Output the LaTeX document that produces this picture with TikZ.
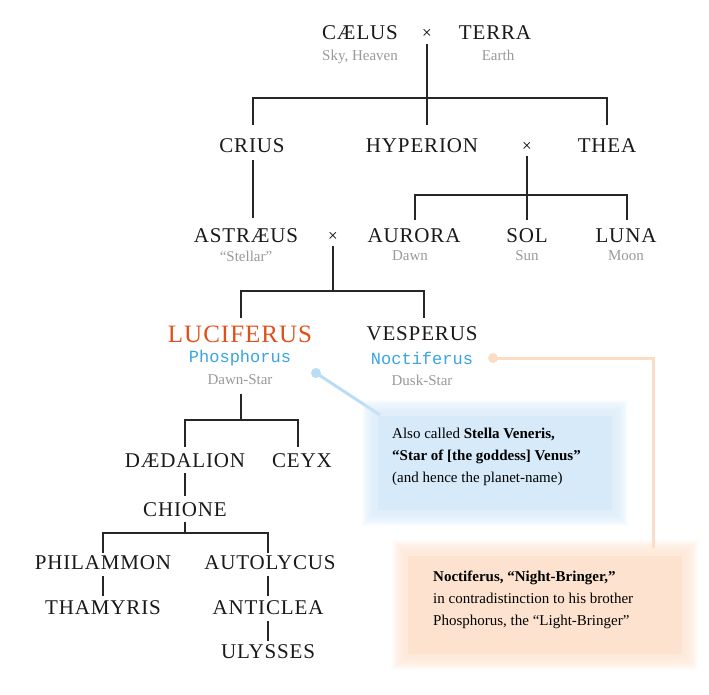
\documentclass[tikz,border=0pt]{standalone}
\usepackage{fontspec}
\setmainfont{Liberation Serif}
\newfontfamily\namefont[LetterSpace=4]{Liberation Serif}
\newfontfamily\blfont{Liberation Mono}
\begin{document}
\begin{tikzpicture}[x=1pt,y=-1pt,
  nm/.style={font=\namefont\fontsize{21}{22}\selectfont,inner sep=0pt,text=black!90},
  gl/.style={font=\fontsize{15}{16}\selectfont,inner sep=0pt,text=black!40},
  bl/.style={font=\blfont\fontsize{17}{18}\selectfont,inner sep=0pt,text=cyan!80!blue!80},
  tx/.style={font=\fontsize{15}{22}\selectfont,inner sep=0pt,align=left,anchor=north west},
  ln/.style={line width=2.6pt,black!85},
  mul/.style={font=\fontsize{17}{17}\selectfont,inner sep=0pt}]
\useasboundingbox (0,0) rectangle (709,694);
\definecolor{bbox}{HTML}{D6EAF9}\definecolor{obox}{HTML}{FDE3CF}
\definecolor{lblue}{HTML}{B9DDF7}\definecolor{lor}{HTML}{FBDDC6}
\definecolor{orng}{HTML}{E0501A}
% callout boxes
\coordinate (bb) at (380,415);
\coordinate (ob) at (653,548);
\coordinate (obk) at (653,358);
\coordinate (pd) at (316,373);
\coordinate (nd) at (493,358);
\draw[lblue,line width=3pt] (pd) -- (bb);
\fill[lblue] (pd) circle (5);
\draw[lor,line width=3pt] (nd) -- (obk) -- (ob);
\fill[lor] (nd) circle (5);
\foreach \i in {0,1,...,12}{
 \fill[bbox,opacity=0.1] (374-\i,412-\i) rectangle (616+\i,514+\i);
 \fill[obox,opacity=0.1] (404-\i,552-\i) rectangle (686+\i,658+\i);}
\fill[bbox] (378,416) rectangle (612,510);
\fill[obox] (408,556) rectangle (682,654);
\node[tx] (bt) at (392,428) {Also called \textbf{Stella Veneris,}\\\textbf{“Star of [the goddess] Venus”}\\(and hence the planet-name)};
\node[tx] (ot) at (433,571) {\textbf{Noctiferus, “Night-Bringer,”}\\in contradistinction to his brother\\Phosphorus, the “Light-Bringer”};
% names
\node[nm] (cae) at (360,33) {CÆLUS};
\node[mul] (m1) at (427,34) {×};
\node[nm] (ter) at (495,33) {TERRA};
\node[gl] at (360,57) {Sky, Heaven};
\node[gl] at (498,55) {Earth};
\node[nm] (cri) at (252,146) {CRIUS};
\node[nm] (hyp) at (422,146) {HYPERION};
\node[mul] (m2) at (527,147) {×};
\node[nm] (the) at (607,146) {THEA};
\node[nm] (ast) at (246,236) {ASTRÆUS};
\node[mul] (m3) at (333,237) {×};
\node[nm] (aur) at (414,236) {AURORA};
\node[nm] (sol) at (527,236) {SOL};
\node[nm] (lun) at (626,236) {LUNA};
\node[gl] at (246,256) {“Stellar”};
\node[gl] at (410,256) {Dawn};
\node[gl] at (527,256) {Sun};
\node[gl] at (626,256) {Moon};
\node[nm,text=orng,font=\namefont\fontsize{25}{26}\selectfont] (luc) at (240,334) {LUCIFERUS};
\node[bl] at (240,358) {Phosphorus};
\node[gl] at (240,380) {Dawn-Star};
\node[nm] (ves) at (422,334) {VESPERUS};
\node[bl] at (422,358) {Noctiferus};
\node[gl] at (422,380) {Dusk-Star};
\node[nm] (dae) at (185,461) {DÆDALION};
\node[nm] (cey) at (302,461) {CEYX};
\node[nm] (chi) at (185,510) {CHIONE};
\node[nm] (phi) at (103,563) {PHILAMMON};
\node[nm] (aut) at (270,563) {AUTOLYCUS};
\node[nm] (tha) at (103,608) {THAMYRIS};
\node[nm] (ant) at (268,608) {ANTICLEA};
\node[nm] (uly) at (268,652) {ULYSSES};
% lines
\draw[ln] (427,44) -- (427,98);
\draw[ln] (253,125) -- (253,98) -- (607,98) -- (607,125);
\draw[ln] (427,98) -- (427,125);
\draw[ln] (253,160) -- (253,218);
\draw[ln] (527,156) -- (527,195);
\draw[ln] (415,220) -- (415,195) -- (627,195) -- (627,220);
\draw[ln] (527,195) -- (527,220);
\draw[ln] (333,246) -- (333,291);
\draw[ln] (241,318) -- (241,291) -- (424,291) -- (424,318);
\draw[ln] (241,394) -- (241,420);
\draw[ln] (185,447) -- (185,420) -- (298,420) -- (298,447);
\draw[ln] (185,473) -- (185,496);
\draw[ln] (185,522) -- (185,533);
\draw[ln] (103,553) -- (103,533) -- (268,533) -- (268,553);
\draw[ln] (103,576) -- (103,596);
\draw[ln] (268,576) -- (268,596);
\draw[ln] (268,621) -- (268,641);
\end{tikzpicture}
\end{document}
